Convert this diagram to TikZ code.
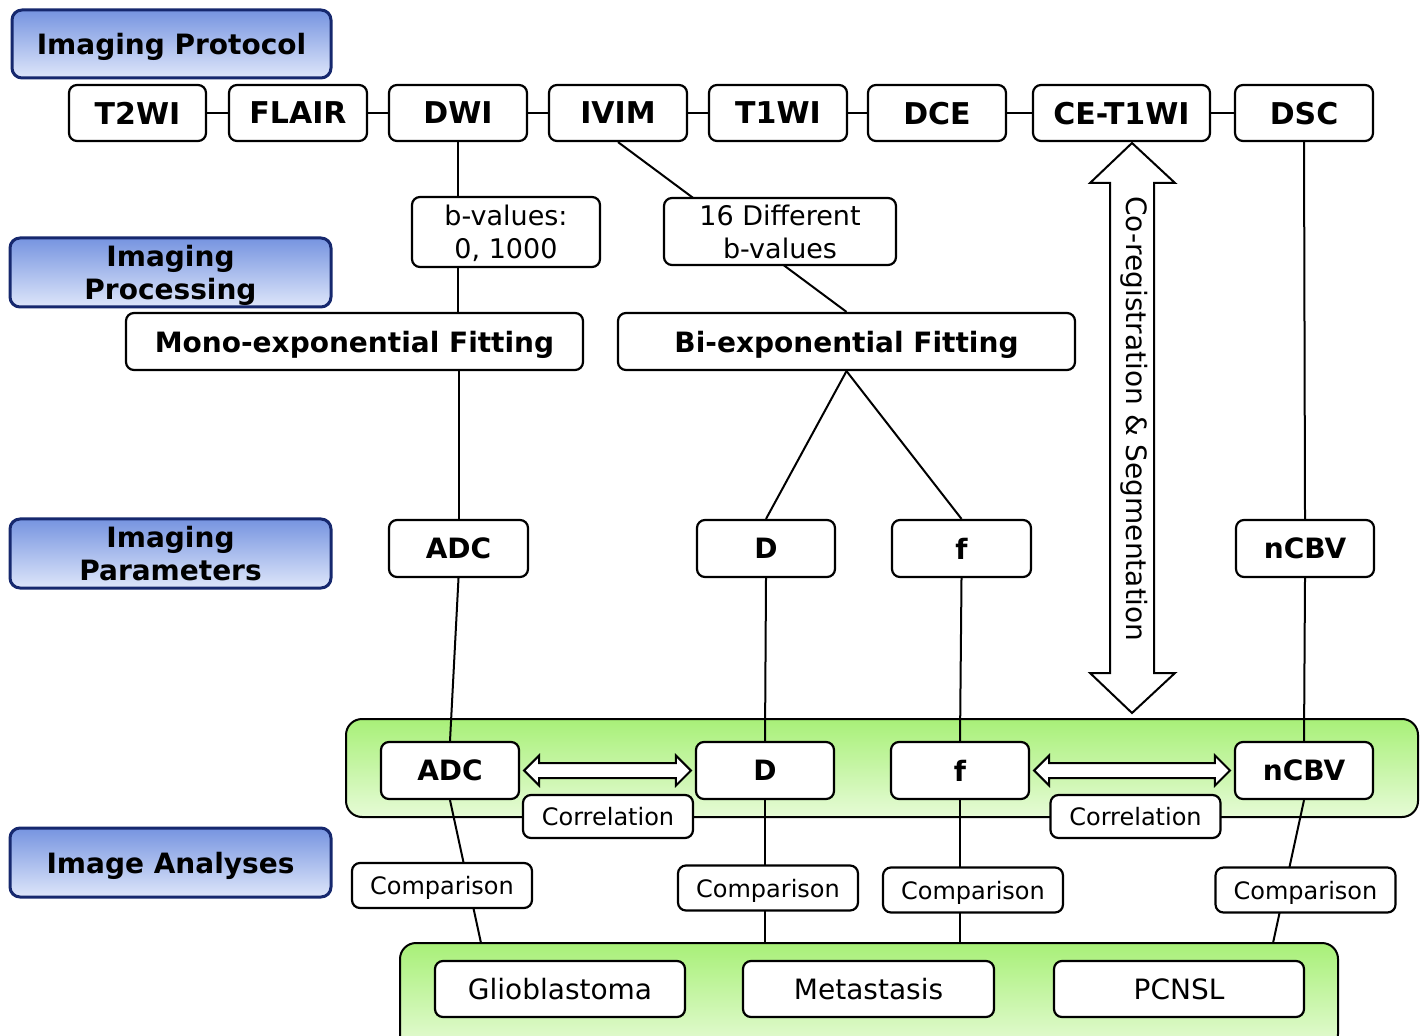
\documentclass[tikz,border=0pt]{standalone}
\usepackage{fontspec}
\setmainfont{DejaVu Sans}
\usetikzlibrary{calc}
\pgfdeclarelayer{panels}
\pgfdeclarelayer{lines}
\pgfsetlayers{panels,lines,main}
\definecolor{navy}{RGB}{22,40,110}
\definecolor{bluetop}{RGB}{118,148,224}
\definecolor{bluebot}{RGB}{222,230,250}
\definecolor{greentop}{RGB}{168,240,120}
\definecolor{greenbot}{RGB}{230,251,214}
\tikzset{
  box/.style={draw=black, line width=1.1pt, rounded corners=4pt, fill=white, inner sep=0pt, align=center,
    text depth=0pt, font=\fontsize{14}{16.5}\selectfont\bfseries},
  topbox/.style={box, minimum height=28pt, font=\fontsize{15}{18}\selectfont\bfseries},
  parbox/.style={box, minimum height=28.5pt},
  plainbox/.style={box, font=\fontsize{13.5}{16.5}\selectfont},
  smallbox/.style={box, font=\fontsize{12}{14}\selectfont},
  header/.style={draw=navy, line width=1.5pt, rounded corners=5pt, top color=bluetop, bottom color=bluebot,
    inner sep=0pt, align=center, text depth=0pt, font=\fontsize{14}{16.5}\selectfont\bfseries},
  panel/.style={draw=black, line width=1pt, rounded corners=8pt, top color=greentop, bottom color=greenbot, inner sep=0pt},
  conn/.style={draw=black, line width=1pt},
  arrowshape/.style={draw=black, line width=1pt, fill=white, line join=miter}
}
\newcommand\harr[2]{\draw[arrowshape] let \p1=(#1.east), \p2=(#2.west) in
  (\x1+2pt,\y1) -- (\x1+9.5pt,\y1+7.5pt) -- (\x1+9.5pt,\y1+3.75pt) -- (\x2-9.5pt,\y1+3.75pt) --
  (\x2-9.5pt,\y1+7.5pt) -- (\x2-2pt,\y1) -- (\x2-9.5pt,\y1-7.5pt) -- (\x2-9.5pt,\y1-3.75pt) --
  (\x1+9.5pt,\y1-3.75pt) -- (\x1+9.5pt,\y1-7.5pt) -- cycle;}
\begin{document}
\begin{tikzpicture}[x=0.5pt,y=-0.5pt]
\useasboundingbox (0,0) rectangle (1427,1036);

% panels
\begin{pgfonlayer}{panels}
\fill[white] (0,0) rectangle (1427,1036);
\begin{scope}
\clip (0,0) rectangle (1427,1036);
\node[panel, minimum width=536pt, minimum height=49pt] (panA) at (882,768) {};
\node[panel, minimum width=469pt, minimum height=53.5pt] (panB) at (869,996.5) {};
\end{scope}
\end{pgfonlayer}

% headers
\node[header, minimum width=159.5pt, minimum height=34pt] (hprot) at (171.5,44) {Imaging Protocol};
\node[header, minimum width=160.5pt, minimum height=34.5pt] (hproc) at (170.5,272.5) {Imaging\\Processing};
\node[header, minimum width=160.5pt, minimum height=34.5pt] (hpar) at (170.5,553.5) {Imaging\\Parameters};
\node[header, minimum width=160.5pt, minimum height=34.5pt] (hana) at (170.5,862.5) {Image Analyses};

% top row
\node[topbox, minimum width=68.5pt] (t2) at (137.5,113) {T2WI};
\node[topbox, minimum width=69pt] (fl) at (298,113) {FLAIR};
\node[topbox, minimum width=69pt] (dwi) at (458,113) {DWI};
\node[topbox, minimum width=69pt] (ivim) at (618,113) {IVIM};
\node[topbox, minimum width=69pt] (t1) at (778,113) {T1WI};
\node[topbox, minimum width=69pt] (dce) at (937,113) {DCE};
\node[topbox, minimum width=88.5pt] (cet) at (1121.5,113) {CE-T1WI};
\node[topbox, minimum width=69pt] (dsc) at (1304,113) {DSC};

% processing
\node[plainbox, minimum width=94pt, minimum height=35pt] (bval) at (506,232) {b-values:\\0, 1000};
\node[plainbox, minimum width=116pt, minimum height=33.5pt] (diff) at (780,231.5) {16 Different\\b-values};
\node[parbox, minimum width=228.5pt] (mono) at (354.5,341.5) {Mono-exponential Fitting};
\node[parbox, minimum width=228.5pt] (bi) at (846.5,341.5) {Bi-exponential Fitting};

% parameters
\node[parbox, minimum width=69.5pt] (adcP) at (458.5,548.5) {ADC};
\node[parbox, minimum width=69pt] (dP) at (766,548.5) {D};
\node[parbox, minimum width=69.5pt] (fP) at (961.5,548.5) {f};
\node[parbox, minimum width=69pt] (nP) at (1305,548.5) {nCBV};

% analysis row
\node[parbox, minimum width=69pt] (adcA) at (450,770.5) {ADC};
\node[parbox, minimum width=69pt] (dA) at (765,770.5) {D};
\node[parbox, minimum width=69pt] (fA) at (960,770.5) {f};
\node[parbox, minimum width=69pt] (nA) at (1304,770.5) {nCBV};

\node[smallbox, minimum width=85pt, minimum height=21.5pt] (cor1) at (608,816.5) {Correlation};
\node[smallbox, minimum width=85pt, minimum height=21.5pt] (cor2) at (1135.5,816.5) {Correlation};

\node[smallbox, minimum width=90pt, minimum height=22.5pt] (cmp1) at (442,885.5) {Comparison};
\node[smallbox, minimum width=90pt, minimum height=22.5pt] (cmp2) at (768,888) {Comparison};
\node[smallbox, minimum width=90pt, minimum height=22.5pt] (cmp3) at (973,890) {Comparison};
\node[smallbox, minimum width=90pt, minimum height=22.5pt] (cmp4) at (1305.5,890) {Comparison};

% diagnoses
\node[plainbox, minimum width=125pt, minimum height=28pt, font=\fontsize{14}{16}\selectfont] (glio) at (560,989) {Glioblastoma};
\node[plainbox, minimum width=125.5pt, minimum height=28pt, font=\fontsize{14}{16}\selectfont] (meta) at (868.5,989) {Metastasis};
\node[plainbox, minimum width=125pt, minimum height=28pt, font=\fontsize{14}{16}\selectfont] (pcnsl) at (1179,989) {PCNSL};

\coordinate (g1) at (481,943);
\coordinate (g2) at (765,943);
\coordinate (g3) at (960,943);
\coordinate (g4) at (1273,943);

% connectors
\begin{pgfonlayer}{lines}
\draw[conn] (t2.east) -- (fl.west);
\draw[conn] (fl.east) -- (dwi.west);
\draw[conn] (dwi.east) -- (ivim.west);
\draw[conn] (ivim.east) -- (t1.west);
\draw[conn] (t1.east) -- (dce.west);
\draw[conn] (dce.east) -- (cet.west);
\draw[conn] (cet.east) -- (dsc.west);
\draw[conn] (dwi.south) -- (dwi.south |- mono.north);
\draw[conn] (ivim.south) -- (bi.north);
\draw[conn] (adcP.north |- mono.south) -- (adcP.north);
\draw[conn] (bi.south) -- (dP.north);
\draw[conn] (bi.south) -- (fP.north);
\draw[conn] (dsc.south) -- (nP.north);
\draw[conn] (adcP.south) -- (adcA.north);
\draw[conn] (dP.south) -- (dA.north);
\draw[conn] (fP.south) -- (fA.north);
\draw[conn] (nP.south) -- (nA.north);
\draw[conn] (adcA.south) -- (g1);
\draw[conn] (dA.south) -- (g2);
\draw[conn] (fA.south) -- (g3);
\draw[conn] (nA.south) -- (g4);
\end{pgfonlayer}

% correlation arrows
\harr{adcA}{dA}
\harr{fA}{nA}

% co-registration arrow
\draw[arrowshape] (1132,143) -- (1175,183) -- (1154,183) -- (1154,673) -- (1175,673) -- (1132,713)
  -- (1090,673) -- (1110,673) -- (1110,183) -- (1090,183) -- cycle;
\node[rotate=-90, font=\fontsize{14}{16}\selectfont] (coreg) at (1134,419) {Co-registration \& Segmentation};
\end{tikzpicture}
\end{document}
